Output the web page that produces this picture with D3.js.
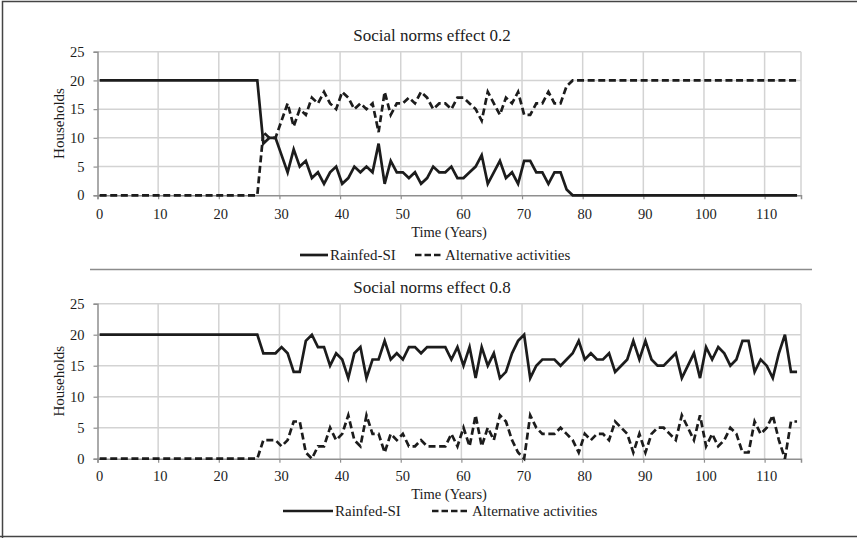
<!DOCTYPE html>
<html>
<head>
<meta charset="utf-8">
<script src="https://cdn.jsdelivr.net/npm/d3@7"></script>
<style>
  body { margin: 0; background: #fff; }
  svg { display: block; font-family: "Liberation Serif", "Times New Roman", serif; }
</style>
</head>
<body>
<svg id="chart" width="857" height="538"></svg>
<script>
// values per year, year 0 .. 115
const rainfed02 = [20,20,20,20,20,20,20,20,20,20,20,20,20,20,20,20,20,20,20,20,20,20,20,20,20,20,20,
  9,10,10,7,4,8,5,6,3,4,2,4,5,2,3,5,4,5,4,9,2,6,4,4,3,4,2,3,5,4,4,5,3,3,4,5,7,2,4,6,3,4,2,6,6,4,4,2,4,4,1,0,
  0,0,0,0,0,0,0,0,0,0,0,0,0,0,0,0,0,0,0,0,0,0,0,0,0,0,0,0,0,0,0,0,0,0,0,0,0];
const alternative02 = [0,0,0,0,0,0,0,0,0,0,0,0,0,0,0,0,0,0,0,0,0,0,0,0,0,0,0,
  11,10,10,13,16,12,15,14,17,16,18,16,15,18,17,15,16,15,16,11,18,14,16,16,17,16,18,17,15,16,16,15,17,17,16,15,13,18,16,14,17,16,18,14,14,16,16,18,16,16,19,20,
  20,20,20,20,20,20,20,20,20,20,20,20,20,20,20,20,20,20,20,20,20,20,20,20,20,20,20,20,20,20,20,20,20,20,20,20,20];
const rainfed08 = [20,20,20,20,20,20,20,20,20,20,20,20,20,20,20,20,20,20,20,20,20,20,20,20,20,20,20,
  17,17,17,18,17,14,14,19,20,18,18,15,17,16,13,17,18,13,16,16,19,16,17,16,18,18,17,18,18,18,18,16,18,15,18,13,18,15,17,13,14,17,19,20,
  13,15,16,16,16,15,16,17,19,16,17,16,16,17,14,15,16,19,16,19,16,15,15,16,17,13,15,17,13,18,16,18,17,15,16,19,19,14,16,15,13,17,20,14,14];
const alternative08 = [0,0,0,0,0,0,0,0,0,0,0,0,0,0,0,0,0,0,0,0,0,0,0,0,0,0,0,
  3,3,3,2,3,6,6,1,0,2,2,5,3,4,7,3,2,7,4,4,1,4,3,4,2,2,3,2,2,2,2,4,2,5,2,7,2,5,3,7,6,3,1,0,
  7,5,4,4,4,5,4,3,1,4,3,4,4,3,6,5,4,1,4,1,4,5,5,4,3,7,5,3,7,2,4,2,3,5,4,1,1,6,4,5,7,3,0,6,6];

const xTicks = [0, 10, 20, 30, 40, 50, 60, 70, 80, 90, 100, 110];
const yTicks = [0, 5, 10, 15, 20, 25];
const seriesNames = ["Rainfed-SI", "Alternative activities"];

const svg = d3.select("#chart");
const ink = "#1c1c1c";

// outer frame
svg.append("path")
  .attr("d", "M2.5,538 V1.5 H857 M0,536.5 H857")
  .attr("fill", "none").attr("stroke", "#444").attr("stroke-width", 1.5);

// separator between the two panels
svg.append("line")
  .attr("x1", 90).attr("x2", 812).attr("y1", 269.5).attr("y2", 269.5)
  .attr("stroke", "#8c8c8c").attr("stroke-width", 1.5);

const x = d3.scaleLinear().domain([0, 116]).range([97.5, 801]);
const shift = 0.35; // points sit a little right of the year tick

const panels = [
  { title: "Social norms effect 0.2", rainfed: rainfed02, alt: alternative02,
    yTop: 51.7, yBottom: 195.3, titleY: 41, tickY: 219, axisTitleY: 236.5, legendY: 255,
    legend: [[300, 28], [415, 28]] },
  { title: "Social norms effect 0.8", rainfed: rainfed08, alt: alternative08,
    yTop: 303.7, yBottom: 458.7, titleY: 293, tickY: 481.5, axisTitleY: 499, legendY: 511,
    legend: [[283, 50], [432, 38]] }
];

panels.forEach(p => {
  const y = d3.scaleLinear().domain([0, 25]).range([p.yBottom, p.yTop]);
  const g = svg.append("g");

  // grid
  g.selectAll(".hgrid").data(yTicks.slice(1)).enter().append("line")
    .attr("x1", x(0)).attr("x2", x(116))
    .attr("y1", d => y(d)).attr("y2", d => y(d))
    .attr("stroke", "#d3d3d3").attr("stroke-width", 1.5);
  g.selectAll(".vgrid").data(xTicks.slice(1).concat([116])).enter().append("line")
    .attr("x1", d => x(d)).attr("x2", d => x(d))
    .attr("y1", y(0)).attr("y2", y(25))
    .attr("stroke", "#d3d3d3").attr("stroke-width", 1.5);

  // axes
  const yAxis = g.append("g")
    .attr("transform", `translate(${x(0)},0)`)
    .call(d3.axisLeft(y).tickValues(yTicks).tickSize(4).tickPadding(9));
  const xAxis = g.append("g")
    .attr("transform", `translate(0,${y(0)})`)
    .call(d3.axisBottom(x).tickValues(xTicks).tickSize(4));
  [yAxis, xAxis].forEach(a => {
    a.select(".domain").attr("stroke", "#8f8f8f").attr("stroke-width", 1.5);
    a.selectAll(".tick line").attr("stroke", "#8f8f8f").attr("stroke-width", 1.2);
    a.selectAll(".tick text").attr("fill", ink)
      .style("font-family", "Liberation Serif").style("font-size", "14.5px");
  });
  xAxis.selectAll(".tick text").attr("dy", null).attr("x", 1.5)
    .attr("y", p.tickY - y(0));

  // titles
  g.append("text").attr("x", 432).attr("y", p.titleY)
    .attr("text-anchor", "middle").attr("font-size", 17).attr("fill", ink).text(p.title);
  g.append("text").attr("x", 449).attr("y", p.axisTitleY)
    .attr("text-anchor", "middle").attr("font-size", 14.5).attr("fill", ink).text("Time (Years)");
  g.append("text")
    .attr("transform", `translate(64,${(y(0) + y(25)) / 2}) rotate(-90)`)
    .attr("text-anchor", "middle").attr("font-size", 15).attr("fill", ink).text("Households");

  // lines
  const line = d3.line().x((d, i) => x(i + shift)).y(d => y(d));
  g.append("path").datum(p.alt).attr("d", line)
    .attr("fill", "none").attr("stroke", ink).attr("stroke-width", 2.7)
    .attr("stroke-dasharray", "7,3.6");
  g.append("path").datum(p.rainfed).attr("d", line)
    .attr("fill", "none").attr("stroke", ink).attr("stroke-width", 2.7);

  // legend
  seriesNames.forEach((name, k) => {
    const [lx, len] = p.legend[k];
    g.append("line").attr("x1", lx).attr("x2", lx + len)
      .attr("y1", p.legendY).attr("y2", p.legendY)
      .attr("stroke", ink).attr("stroke-width", 2.7)
      .attr("stroke-dasharray", k === 1 ? "6.5,3" : null);
    g.append("text").attr("x", lx + len + 2).attr("y", p.legendY + 5)
      .attr("font-size", 15).attr("fill", ink).text(name);
  });
});
</script>
</body>
</html>
